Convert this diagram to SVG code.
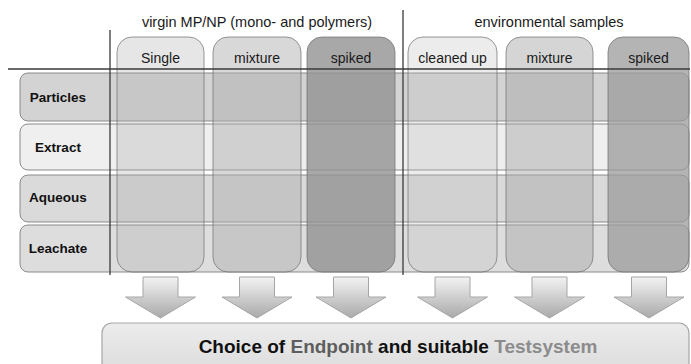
<svg xmlns="http://www.w3.org/2000/svg" width="691" height="364" viewBox="0 0 691 364">
<style>
.hdr{font-family:"Liberation Sans",Arial,sans-serif;font-size:14.5px;fill:#1a1a1a;text-anchor:middle}
.col{font-family:"Liberation Sans",Arial,sans-serif;font-size:14px;fill:#1a1a1a;text-anchor:middle}
.row{font-family:"Liberation Sans",Arial,sans-serif;font-size:13.5px;font-weight:bold;fill:#111;text-anchor:middle}
.rowbox{stroke:#8a8a8a;stroke-width:1}
.colbox{stroke:#6e6e6e;stroke-opacity:0.7;stroke-width:1}
.arrow{fill:url(#ag);stroke:#a6a6a6;stroke-width:1}
.rule{stroke:#3a3a3a;stroke-width:1.3;fill:none}
.big{font-family:"Liberation Sans",Arial,sans-serif;font-size:19px;font-weight:bold;text-anchor:middle}
</style>
<defs>
<linearGradient id="ag" x1="0" y1="0" x2="0" y2="1">
<stop offset="0" stop-color="#f3f3f3"/>
<stop offset="1" stop-color="#a9a9a9"/>
</linearGradient>
<linearGradient id="bg" x1="0" y1="0" x2="0" y2="1">
<stop offset="0" stop-color="#ececec"/>
<stop offset="1" stop-color="#d9d9d9"/>
</linearGradient>
</defs>
<rect width="691" height="364" fill="#ffffff"/>

<g id="rows">
<rect id="row-particles" class="rowbox" x="20" y="73" width="669" height="48" rx="8" fill="#d3d3d3"/>
<rect id="row-extract" class="rowbox" x="20" y="124" width="669" height="46" rx="8" fill="#efefef"/>
<rect id="row-aqueous" class="rowbox" x="20" y="175" width="669" height="47" rx="8" fill="#dadada"/>
<rect id="row-leachate" class="rowbox" x="20" y="225" width="669" height="47" rx="8" fill="#dddddd"/>
</g>

<g id="columns">
<rect id="col-single" class="colbox" x="117" y="37" width="87" height="235" rx="15" fill="#a9a9a9" fill-opacity="0.29"/>
<rect id="col-mixture" class="colbox" x="213" y="37" width="88" height="235" rx="15" fill="#afafaf" fill-opacity="0.49"/>
<rect id="col-spiked" class="colbox" x="307" y="37" width="88" height="235" rx="15" fill="#929292" fill-opacity="0.8"/>
<rect id="col-cleaned" class="colbox" x="408" y="37" width="89" height="235" rx="15" fill="#bdbdbd" fill-opacity="0.29"/>
<rect id="col-env-mixture" class="colbox" x="506" y="37" width="87" height="235" rx="15" fill="#aaaaaa" fill-opacity="0.49"/>
<rect id="col-env-spiked" class="colbox" x="608" y="37" width="81" height="235" rx="15" fill="#9b9b9b" fill-opacity="0.75"/>
</g>

<g id="rules">
<line class="rule" x1="8" y1="69" x2="690" y2="69"/>
<line class="rule" x1="110" y1="30" x2="110" y2="275"/>
<line class="rule" x1="403" y1="10" x2="403" y2="275"/>
</g>

<g id="labels">
<text class="hdr" x="257" y="27">virgin MP/NP (mono- and polymers)</text>
<text class="hdr" x="549" y="27">environmental samples</text>
<text class="col" x="160.5" y="63">Single</text>
<text class="col" x="257" y="63">mixture</text>
<text class="col" x="351" y="63">spiked</text>
<text class="col" x="452.5" y="63">cleaned up</text>
<text class="col" x="549.5" y="63">mixture</text>
<text class="col" x="648.5" y="63">spiked</text>
<text class="row" x="58" y="101.5">Particles</text>
<text class="row" x="58" y="151.5">Extract</text>
<text class="row" x="58" y="202">Aqueous</text>
<text class="row" x="58" y="253">Leachate</text>
</g>

<g id="connectors">
<path class="arrow" d="M143 277 H178 V297 H195.5 L160.5 318 L125.5 297 H143 Z"/>
<path class="arrow" d="M239.5 277 H274.5 V297 H292 L257 318 L222 297 H239.5 Z"/>
<path class="arrow" d="M333.5 277 H368.5 V297 H386 L351 318 L316 297 H333.5 Z"/>
<path class="arrow" d="M435 277 H470 V297 H487.5 L452.5 318 L417.5 297 H435 Z"/>
<path class="arrow" d="M532 277 H567 V297 H584.5 L549.5 318 L514.5 297 H532 Z"/>
<path class="arrow" d="M631.5 277 H666.5 V297 H684 L649 318 L614 297 H631.5 Z"/>
</g>

<g id="result">
<rect x="102" y="323" width="587" height="60" rx="10" fill="url(#bg)" stroke="#a6a6a6" stroke-width="1.2"/>
<text class="big" x="398" y="353"><tspan fill="#111">Choice of </tspan><tspan fill="#5e5e5e">Endpoint </tspan><tspan fill="#111">and suitable </tspan><tspan fill="#8c8c8c">Testsystem</tspan></text>
</g>
</svg>
